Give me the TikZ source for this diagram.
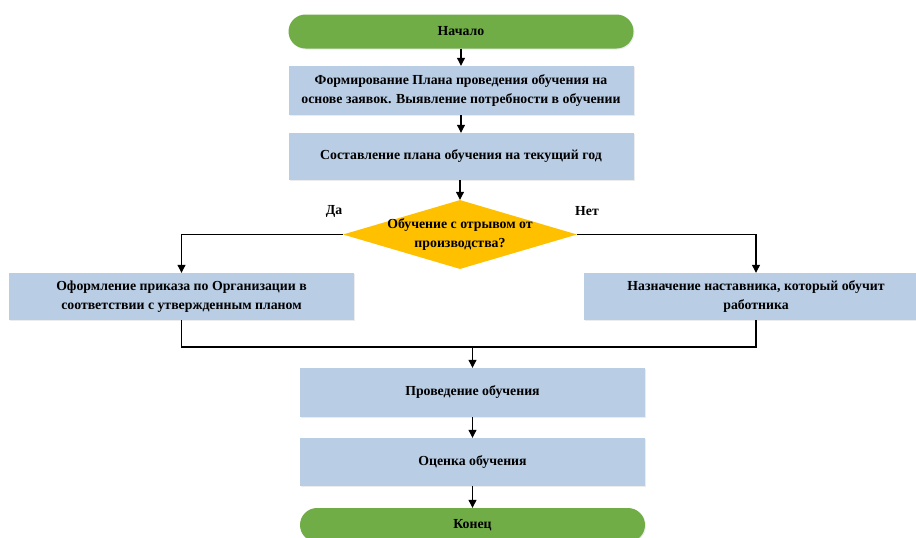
\documentclass[tikz,border=0pt]{standalone}
\usepackage{fontspec}
\setmainfont{Liberation Serif}
\usetikzlibrary{arrows.meta,shapes.geometric,shadows}
\definecolor{stepblue}{HTML}{B9CDE5}
\definecolor{termgreen}{HTML}{70AD47}
\definecolor{decyellow}{HTML}{FFC000}
\tikzset{
  base/.style={font=\bfseries\fontsize{13.8}{18.5}\selectfont, text=black, align=center, inner sep=0pt},
  stepbox/.style={base, rectangle, fill=stepblue, minimum width=345pt, minimum height=48pt,
    drop shadow={shadow xshift=1pt, shadow yshift=-1pt, opacity=0.15}},
  term/.style={base, rectangle, rounded corners=17pt, fill=termgreen, minimum width=345pt, minimum height=34pt,
    drop shadow={shadow xshift=1pt, shadow yshift=-1pt, opacity=0.15}},
  decision/.style={diamond, aspect=3.4, fill=decyellow, minimum width=234pt, minimum height=69pt, inner sep=0pt},
  conn/.style={line width=1.1pt, draw=black},
  arr/.style={conn, -{Triangle[width=8pt,length=8pt]}},
  lbl/.style={font=\bfseries\fontsize{13.8}{16}\selectfont}
}
\begin{document}
\begin{tikzpicture}[x=1pt,y=-1pt]
  \clip (0,0) rectangle (916,538);
  \fill[white] (0,0) rectangle (916,538);

  \node[term] (start) at (461,31.5) {Начало};
  \node[stepbox, minimum height=49pt] (plan) at (461,90.5)
    {Формирование Плана проведения обучения на\\основе заявок. Выявление потребности в обучении};
  \node[stepbox, minimum height=47pt] (year) at (461,156.5) {Составление плана обучения на текущий год};
  % the diamond keeps a fixed size; its question is set on top of it
  \node[decision] (dec) at (460,234.5) {};
  \node[base] (question) at (dec.center) {Обучение с отрывом от\\производства?};
  \node[stepbox, minimum height=47pt] (order) at (181.5,296.5)
    {Оформление приказа по Организации в\\соответствии с утвержденным планом};
  \node[stepbox, minimum height=47pt] (mentor) at (756,296.5)
    {Назначение наставника, который обучит\\работника};
  \node[stepbox, minimum height=49pt] (train) at (472.5,392.5) {Проведение обучения};
  \node[stepbox, minimum height=48pt] (eval) at (472.5,462) {Оценка обучения};
  \node[term] (end) at (472.5,525) {Конец};

  \node[lbl] (yes) at (334,211) {Да};
  \node[lbl] (no) at (587,211) {Нет};

  \coordinate (join) at (472.5,347);

  \draw[arr] (start) -- (plan);
  \draw[arr] (plan) -- (year);
  \draw[arr] (year.south -| dec.north) -- (dec.north);
  \draw[arr] (dec.west) -| (order.north);
  \draw[arr] (dec.east) -| (mentor.north);
  \draw[conn] (order.south) |- (join);
  \draw[conn] (mentor.south) |- (join);
  \draw[arr] (join) -- (train.north);
  \draw[arr] (train) -- (eval);
  \draw[arr] (eval) -- (end);
\end{tikzpicture}
\end{document}
